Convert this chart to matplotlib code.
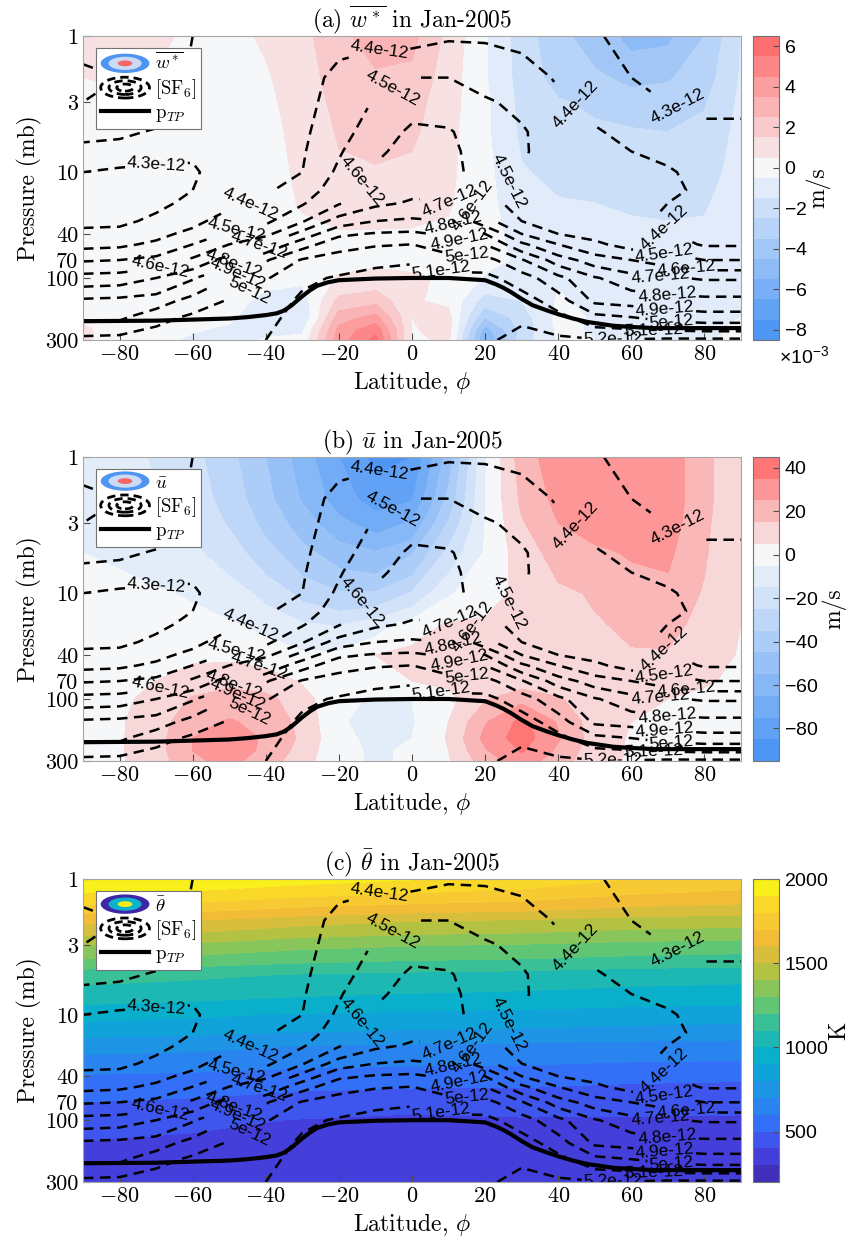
import numpy as np
import matplotlib
matplotlib.use("Agg")
import matplotlib.pyplot as plt
from matplotlib.colors import LinearSegmentedColormap, TwoSlopeNorm, Normalize
from matplotlib.patches import Ellipse, Patch
from matplotlib.lines import Line2D
from matplotlib.legend_handler import HandlerBase

plt.rcParams["font.family"] = ["cmr10"]
plt.rcParams["mathtext.fontset"] = "cm"
plt.rcParams["axes.unicode_minus"] = False
plt.rcParams["axes.formatter.use_mathtext"] = True
plt.rcParams["lines.dashed_pattern"] = (4.2, 2.6)

# ---------------- data ----------------
lats = [-90, -80, -70, -60, -50, -40, -30, -20, -10, 0, 10, 20, 30, 40, 50, 60, 70, 80, 90]

# SF6 mixing ratio (units of 1e-12), rows = pressure levels
sf6_p = [1, 2, 3, 5, 7, 10, 15, 20, 30, 40, 50, 70, 100, 150, 200, 300]
sf6 = [
    [4.47, 4.46, 4.45, 4.40, 4.36, 4.36, 4.37, 4.38, 4.38, 4.37, 4.39, 4.39, 4.38, 4.36, 4.31, 4.27, 4.24, 4.22, 4.22],
    [4.52, 4.50, 4.48, 4.38, 4.35, 4.35, 4.37, 4.42, 4.46, 4.50, 4.50, 4.47, 4.44, 4.39, 4.35, 4.30, 4.27, 4.25, 4.25],
    [4.50, 4.48, 4.46, 4.36, 4.34, 4.34, 4.37, 4.44, 4.51, 4.56, 4.55, 4.51, 4.48, 4.42, 4.37, 4.33, 4.30, 4.28, 4.28],
    [4.43, 4.42, 4.39, 4.33, 4.33, 4.34, 4.38, 4.47, 4.54, 4.62, 4.61, 4.54, 4.51, 4.45, 4.41, 4.37, 4.34, 4.32, 4.32],
    [4.37, 4.36, 4.33, 4.31, 4.33, 4.35, 4.39, 4.49, 4.58, 4.64, 4.63, 4.54, 4.51, 4.46, 4.42, 4.40, 4.38, 4.35, 4.34],
    [4.30, 4.28, 4.28, 4.29, 4.34, 4.37, 4.40, 4.52, 4.62, 4.66, 4.65, 4.53, 4.50, 4.46, 4.43, 4.42, 4.41, 4.37, 4.36],
    [4.26, 4.24, 4.26, 4.30, 4.36, 4.39, 4.44, 4.56, 4.66, 4.68, 4.68, 4.51, 4.48, 4.46, 4.43, 4.42, 4.42, 4.38, 4.37],
    [4.25, 4.24, 4.28, 4.32, 4.38, 4.41, 4.49, 4.59, 4.68, 4.71, 4.71, 4.52, 4.48, 4.46, 4.43, 4.42, 4.40, 4.37, 4.37],
    [4.28, 4.28, 4.32, 4.37, 4.45, 4.48, 4.59, 4.75, 4.80, 4.82, 4.80, 4.64, 4.50, 4.47, 4.44, 4.42, 4.38, 4.36, 4.36],
    [4.32, 4.33, 4.37, 4.43, 4.52, 4.57, 4.74, 4.88, 4.91, 4.92, 4.88, 4.80, 4.60, 4.50, 4.47, 4.43, 4.41, 4.37, 4.37],
    [4.37, 4.38, 4.42, 4.50, 4.60, 4.71, 4.86, 4.96, 4.99, 5.00, 4.94, 4.90, 4.72, 4.60, 4.52, 4.46, 4.44, 4.39, 4.39],
    [4.49, 4.50, 4.53, 4.62, 4.75, 4.89, 5.01, 5.05, 5.08, 5.09, 5.05, 5.04, 4.91, 4.75, 4.65, 4.60, 4.55, 4.50, 4.50],
    [4.64, 4.65, 4.70, 4.79, 4.91, 4.99, 5.08, 5.11, 5.13, 5.14, 5.13, 5.13, 5.05, 4.93, 4.81, 4.74, 4.71, 4.69, 4.69],
    [4.82, 4.83, 4.85, 4.94, 5.01, 5.04, 5.12, 5.15, 5.16, 5.17, 5.17, 5.17, 5.15, 5.05, 4.88, 4.86, 4.84, 4.83, 4.83],
    [4.88, 4.88, 4.96, 5.02, 5.03, 5.07, 5.14, 5.16, 5.17, 5.18, 5.19, 5.19, 5.19, 5.13, 5.03, 5.00, 4.96, 4.94, 4.94],
    [5.03, 5.04, 5.07, 5.08, 5.09, 5.10, 5.15, 5.17, 5.18, 5.19, 5.19, 5.19, 5.22, 5.22, 5.21, 5.21, 5.22, 5.22, 5.22],
]
sf6_levels = [4.0, 4.1, 4.2, 4.3, 4.4, 4.5, 4.6, 4.7, 4.8, 4.9, 5.0, 5.1, 5.2]

# tropopause pressure (mb)
trop_lat = [-90, -70, -60, -50, -45, -40, -37, -35, -33, -30, -28, -26, -23, -20, -10, 0, 10,
            20, 23, 25, 27, 30, 33, 37, 40, 44, 48, 55, 60, 66, 90]
trop_p = [215, 213, 209, 205, 200, 193, 187, 178, 163, 138, 125, 115, 108, 104, 101, 100, 100,
          104, 112, 119, 128, 145, 162, 178, 190, 205, 218, 233, 238, 243, 243]

# residual vertical velocity (units of 1e-3 m/s)
fld_p = [1, 2, 3, 5, 10, 20, 40, 70, 100, 150, 200, 250, 300]
wstar = [
    [0.9, 1.0, 0.7, 0.3, 0.3, 0.6, 1.2, 2.2, 3.0, 2.8, 1.2, -0.4, -2.0, -3.2, -4.0, -4.8, -4.7, -3.5, -1.5],
    [0.5, 0.6, 0.4, 0.2, 0.2, 0.4, 1.0, 2.0, 2.3, 2.2, 1.0, -0.4, -1.9, -2.9, -3.3, -3.8, -3.6, -3.0, -1.4],
    [0.2, 0.3, 0.2, 0.1, 0.1, 0.3, 0.9, 1.8, 2.0, 1.9, 0.9, -0.3, -1.8, -2.4, -2.7, -3.0, -3.0, -2.6, -1.3],
    [0.0, 0.0, 0.0, 0.0, 0.1, 0.2, 0.8, 1.6, 1.8, 1.7, 0.8, -0.3, -1.7, -2.1, -2.3, -2.4, -2.5, -2.2, -1.2],
    [0.0, 0.0, 0.0, 0.0, 0.0, 0.1, 0.7, 1.3, 1.4, 1.2, 0.7, -0.2, -1.4, -1.8, -1.9, -2.0, -2.1, -1.9, -1.1],
    [0.0, 0.0, 0.0, 0.0, 0.0, 0.0, 0.6, 0.9, 0.9, 0.8, 0.6, -0.2, -1.1, -1.4, -1.5, -1.6, -1.7, -1.6, -1.0],
    [0.0, 0.0, 0.0, 0.0, 0.0, 0.0, 0.2, 0.4, 0.4, 0.4, 0.3, -0.2, -0.8, -1.1, -1.2, -1.3, -1.3, -1.3, -0.9],
    [0.0, 0.0, 0.0, 0.0, 0.0, 0.0, 0.1, 0.2, 0.3, 0.3, 0.2, -0.3, -0.6, -0.9, -1.0, -1.1, -1.1, -1.1, -0.8],
    [0.0, 0.0, 0.0, 0.0, 0.0, -0.2, -0.3, 0.6, 0.8, 0.6, 0.4, -0.6, -0.7, -0.6, -0.8, -0.9, -0.9, -0.9, -0.7],
    [0.2, 0.0, 0.0, 0.0, -0.1, -0.8, -1.0, 1.8, 2.2, 0.6, 0.3, -2.0, -1.5, -0.4, -0.7, -0.8, -0.8, -0.8, -0.6],
    [0.4, 0.1, 0.0, -0.1, -0.3, -1.2, -1.5, 3.0, 3.8, 0.5, 0.8, -3.5, -2.0, -0.2, -0.6, -0.8, -0.8, -0.7, -0.5],
    [0.6, 0.2, 0.0, -0.4, -0.7, -0.8, -0.7, 3.8, 5.2, 0.4, 0.9, -5.0, -2.2, -0.3, -0.6, -0.7, -0.7, -0.6, -0.4],
    [0.6, 0.2, -0.2, -0.7, -0.9, -0.4, -0.2, 4.0, 5.8, 0.3, 0.7, -5.6, -2.0, -0.4, -0.5, -0.7, -0.7, -0.6, -0.4],
]
wstar_levels = np.arange(-8.5, 6.6, 1.0)

# zonal mean zonal wind (m/s)
ubar = [
    [-10, -12, -16, -22, -32, -45, -60, -75, -88, -85, -50, -6, 20, 31, 32, 33, 31, 18, 6],
    [-9, -11, -14, -20, -29, -42, -56, -70, -80, -76, -42, -5, 17, 28, 31, 32, 31, 18, 6],
    [-8, -10, -13, -18, -26, -38, -50, -62, -70, -64, -34, -5, 14, 25, 29, 30, 30, 17, 6],
    [-5, -6, -9, -13, -20, -31, -42, -50, -54, -46, -22, -4, 10, 19, 23, 26, 27, 16, 6],
    [-2, -3, -4, -6, -10, -18, -28, -34, -34, -24, -6, 0, 8, 13, 16, 20, 22, 14, 5],
    [0, 0, -1, -2, -4, -8, -14, -16, -10, 0, 6, 7, 9, 11, 14, 17, 18, 12, 5],
    [0, 1, 2, 3, 3, 1, -3, -3, 5, 8, 10, 10, 10, 11, 12, 14, 14, 10, 4],
    [1, 2, 5, 10, 12, 10, 4, -1, 2, 5, 7, 9, 10, 10, 10, 10, 9, 6, 3],
    [1, 3, 8, 16, 20, 18, 9, -3, -6, -5, 2, 14, 22, 16, 9, 7, 5, 3, 1],
    [1, 4, 10, 22, 26, 22, 12, -4, -8, -6, 5, 24, 38, 24, 10, 5, 3, 2, 1],
    [1, 4, 11, 25, 29, 24, 13, -3, -7, -5, 6, 28, 40, 26, 10, 4, 2, 1, 1],
    [1, 4, 11, 25, 30, 23, 11, -3, -6, -4, 5, 24, 36, 23, 9, 4, 2, 1, 1],
    [1, 4, 10, 23, 28, 20, 9, -3, -6, -4, 4, 20, 30, 20, 8, 4, 2, 1, 1],
]
ubar_levels = np.arange(-95, 46, 10)

# potential temperature (K)
theta_lat = [-90, -60, -30, 0, 30, 60, 90]
theta = [
    [1995, 1985, 1940, 1907, 1870, 1800, 1763],
    [1622, 1600, 1540, 1505, 1490, 1460, 1446],
    [1403, 1380, 1330, 1308, 1295, 1270, 1256],
    [1143, 1120, 1095, 1077, 1065, 1045, 1034],
    [932, 915, 890, 876, 865, 850, 839],
    [733, 722, 700, 688, 680, 665, 657],
    [589, 575, 550, 539, 535, 520, 514],
    [498, 480, 450, 438, 440, 432, 428],
    [448, 420, 395, 377, 390, 390, 386],
    [395, 380, 360, 352, 365, 358, 352],
    [361, 350, 348, 348, 345, 335, 333],
    [339, 335, 340, 342, 335, 322, 320],
    [322, 322, 332, 339, 328, 312, 308],
]
theta_levels = np.arange(200, 2001, 100)

# contour label anchor points (lat, p)
sf6_label_at = [(-70, 8), (73, 3.1),
                (-44, 21), (-9, 1.35), (45, 3.1), (69, 35),
                (-48, 37), (-5, 2.5), (27, 13), (69, 62),
                (-69, 78), (-12, 13.5), (17, 20), (75, 83),
                (-42, 49), (10, 19.5), (68, 96),
                (-49, 74), (11, 33), (70, 127),
                (-48, 86), (13, 48), (69, 190),
                (-45, 117), (15, 60), (71, 210),
                (8, 80), (66, 245),
                (55, 285)]

# ---------------- styling helpers ----------------
tick_p = [1, 3, 10, 40, 70, 100, 300]
tick_frac = [0.0, 0.217, 0.448, 0.651, 0.737, 0.796, 1.0]
log_tick = np.log10(tick_p)


def p_fwd(p):
    return np.interp(np.log10(np.clip(p, 1e-3, None)), log_tick, tick_frac, left=-1, right=2)


def p_inv(f):
    return 10 ** np.interp(f, tick_frac, log_tick)


redblue = LinearSegmentedColormap.from_list(
    "redblue", [(0.27, 0.57, 0.96), (0.965, 0.97, 0.98), (1.0, 0.40, 0.40)])

parula = LinearSegmentedColormap.from_list("parula", [
    (0.24, 0.15, 0.66), (0.27, 0.27, 0.90), (0.20, 0.45, 0.98), (0.12, 0.58, 0.90),
    (0.02, 0.68, 0.82), (0.15, 0.74, 0.66), (0.42, 0.78, 0.42), (0.72, 0.76, 0.25),
    (0.95, 0.73, 0.22), (0.98, 0.82, 0.18), (0.97, 0.98, 0.08)])


class RingHandler(HandlerBase):
    def __init__(self, fills=None):
        super().__init__()
        self.fills = fills

    def create_artists(self, legend, orig_handle, xdescent, ydescent, width, height, fontsize, trans):
        cx, cy = 0.5 * width - xdescent, 0.5 * height - ydescent
        arts = []
        if self.fills is None:
            for s in (1.0, 0.66, 0.34):
                e = Ellipse((cx, cy), width * s, height * 1.45 * s, fill=False, ec="k",
                            lw=2.0, ls=(0, (3.0, 1.8)))
                e.set_transform(trans)
                arts.append(e)
        else:
            for s, c in zip((1.0, 0.68, 0.3), self.fills):
                e = Ellipse((cx, cy), width * s, height * 1.35 * s, fc=c, ec="none")
                e.set_transform(trans)
                arts.append(e)
        return arts


def draw_panel(ax, cax, flat, fp, field, levels, cmap, norm, title, cb_label, cb_x, cb_ticks, icon, name):
    ax.set_yscale("function", functions=(p_fwd, p_inv))
    cf = ax.contourf(flat, fp, field, levels=levels, cmap=cmap, norm=norm)
    cs = ax.contour(lats, sf6_p, sf6, levels=sf6_levels, colors="k", linestyles="dashed", linewidths=1.8)
    with plt.rc_context({"font.family": "Liberation Sans"}):
        ax.clabel(cs, fmt=lambda v: f"{v:g}e-12", manual=sf6_label_at, inline=True,
                  fontsize=12.5, inline_spacing=2)
    ax.plot(trop_lat, trop_p, color="k", lw=3.0)
    ax.set_xlim(-90, 90)
    ax.set_ylim(300, 1)
    ax.set_yticks(tick_p)
    ax.set_yticklabels([str(t) for t in tick_p])
    ax.set_xticks(range(-80, 81, 20))
    ax.tick_params(direction="in", length=5, labelsize=16, color="0.3", top=False, right=False)
    for sp in ax.spines.values():
        sp.set_color("0.65")
    ax.set_ylabel("Pressure (mb)", fontsize=17, labelpad=2)
    ax.set_xlabel(r"Latitude, $\phi$", fontsize=17, labelpad=3)
    ax.set_title(title, fontsize=17, pad=3)

    cb = plt.colorbar(cf, cax=cax, ticks=cb_ticks)
    cb.outline.set_edgecolor("0.45")
    cax.tick_params(direction="in", length=4, labelsize=14, color="0.3")
    for t in cax.get_yticklabels():
        t.set_family("Liberation Sans")
    cax.text(cb_x, 0.5, cb_label, transform=cax.transAxes, rotation=90,
             ha="center", va="center", fontsize=17)

    h1 = Patch()
    h2 = Patch(fill=False)
    h3 = Line2D([], [], color="k", lw=3.0)
    leg = ax.legend([h1, h2, h3], [name, r"[SF$_6$]", r"p$_{TP}$"],
                    handler_map={h1: RingHandler(icon), h2: RingHandler(None)},
                    loc="upper left", bbox_to_anchor=(13 / 658, 1 - 12 / 304), borderaxespad=0,
                    fontsize=13.5, handlelength=2.6, handleheight=0.8, handletextpad=0.3,
                    labelspacing=0.18, borderpad=0.25, fancybox=False, framealpha=1)
    leg.get_frame().set_edgecolor("0.45")
    leg.get_frame().set_linewidth(0.8)
    return cb


fig = plt.figure(figsize=(8.52, 12.4), dpi=100)
W, H = 852.0, 1240.0
boxes = [(36, 340), (457, 761), (879, 1182)]
axes, caxes = [], []
for top, bot in boxes:
    axes.append(fig.add_axes([83 / W, 1 - bot / H, 658 / W, (bot - top) / H]))
    caxes.append(fig.add_axes([753 / W, 1 - bot / H, 26 / W, (bot - top) / H]))

draw_panel(axes[0], caxes[0], lats, fld_p, wstar, wstar_levels, redblue,
           TwoSlopeNorm(vmin=-8.5, vcenter=0, vmax=6.5),
           r"(a) $\overline{w^*}$ in Jan-2005", "m/s", 2.5, [-8, -6, -4, -2, 0, 2, 4, 6],
           [(0.31, 0.59, 0.95), (0.80, 0.86, 0.96), (0.97, 0.40, 0.40)], r"$\overline{w^*}$")
caxes[0].text(1.0, -0.016, r"$\mathregular{\times10^{-3}}$", transform=caxes[0].transAxes,
              ha="left", va="top", fontsize=14, family="Liberation Sans")

draw_panel(axes[1], caxes[1], lats, fld_p, ubar, ubar_levels, redblue,
           TwoSlopeNorm(vmin=-95, vcenter=0, vmax=45),
           r"(b) $\bar{u}$ in Jan-2005", "m/s", 3.12, [-80, -60, -40, -20, 0, 20, 40],
           [(0.31, 0.59, 0.95), (0.80, 0.86, 0.96), (0.97, 0.40, 0.40)], r"$\bar{u}$")

draw_panel(axes[2], caxes[2], theta_lat, fld_p, theta, theta_levels, parula,
           Normalize(200, 2000),
           r"(c) $\bar{\theta}$ in Jan-2005", "K", 3.3, [500, 1000, 1500, 2000],
           [(0.24, 0.15, 0.66), (0.05, 0.70, 0.80), (0.97, 0.92, 0.10)], r"$\bar{\theta}$")

fig.savefig("out.png", dpi=100)
